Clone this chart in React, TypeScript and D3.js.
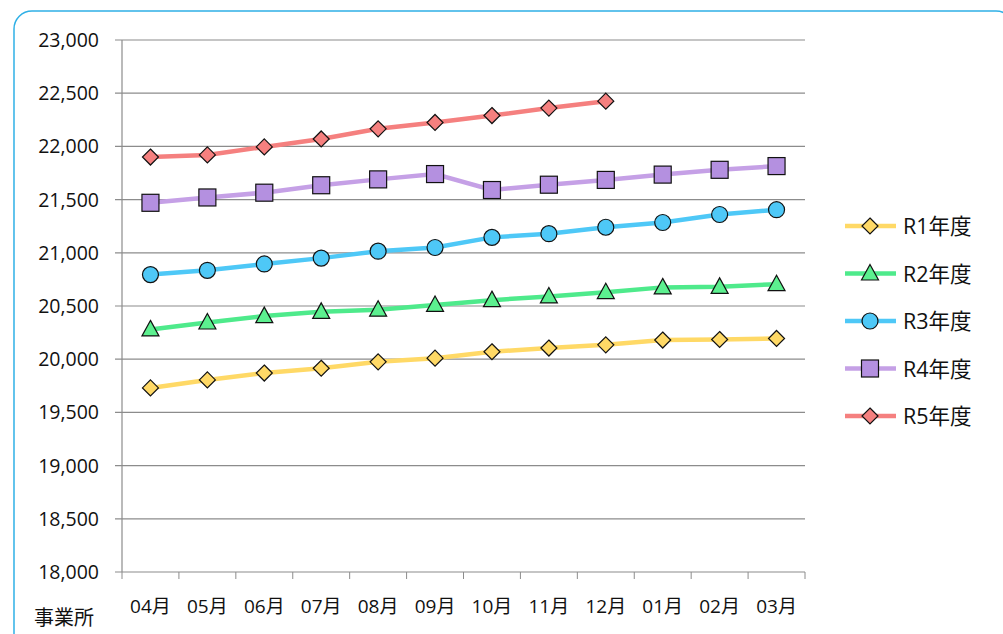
import React from "react";
import * as d3 from "d3";

const months = ["04月","05月","06月","07月","08月","09月","10月","11月","12月","01月","02月","03月"];
const yTicks = [18000,18500,19000,19500,20000,20500,21000,21500,22000,22500,23000];
const R1 = [19730,19805,19870,19915,19975,20010,20070,20105,20135,20180,20185,20195];
const R2 = [20280,20345,20405,20445,20465,20510,20555,20590,20630,20675,20680,20705];
const R3 = [20795,20835,20895,20950,21015,21050,21145,21180,21240,21285,21360,21405];
const R4 = [21470,21520,21565,21635,21690,21740,21590,21640,21685,21735,21780,21815];
const R5 = [21900,21920,21995,22070,22165,22225,22290,22360,22425];
const seriesNames = ["R1年度","R2年度","R3年度","R4年度","R5年度"];
const seriesColors = ["#ffd966","#4eea8b","#4ec8f7","#c5a0e6","#f5807f"];
const seriesFills = ["#ffd966","#5cf08f","#4ec8f7","#b490e0","#f5807f"];
const seriesShapes = ["diamond","triangle","circle","square","diamond"];
const seriesData = [R1,R2,R3,R4,R5];

const font = "'Open Sans','Noto Sans CJK JP',sans-serif";

function Marker({shape,x,y,fill}:{shape:string;x:number;y:number;fill:string}) {
  const p = {fill, stroke:"#111", strokeWidth:1.2};
  if (shape==="circle") return <circle cx={x} cy={y} r={8} {...p}/>;
  if (shape==="square") return <rect x={x-8.5} y={y-8.5} width={17} height={17} {...p}/>;
  if (shape==="triangle") return <path d={`M${x},${y-9}L${x+8.5},${y+6.5}L${x-8.5},${y+6.5}Z`} {...p}/>;
  return <path d={`M${x},${y-8}L${x+8},${y}L${x},${y+8}L${x-8},${y}Z`} {...p}/>;
}

export default function App() {
  const x = d3.scaleBand().domain(months).range([122,805]);
  const y = d3.scaleLinear().domain([18000,23000]).range([572,40]);
  const cx = (i:number)=> (x(months[i]) as number)+x.bandwidth()/2;
  const line = d3.line<number>().x((_,i)=>cx(i)).y(d=>y(d));
  return (
    <svg width={1003} height={634} style={{position:"fixed",left:0,top:0}} fontFamily={font}>
      <rect x={0} y={0} width={1003} height={634} fill="#fff"/>
      <rect x={14} y={11} width={1000} height={640} rx={18} fill="none" stroke="#2fb0e6" strokeWidth={1.5}/>
      {yTicks.map(t=>(
        <g key={t}>
          <line x1={115} x2={805} y1={y(t)} y2={y(t)} stroke="#8c8c8c" strokeWidth={1.2}/>
          <text x={99} y={y(t)+7} textAnchor="end" fontSize={19.5} fill="#111">{d3.format(",")(t)}</text>
        </g>
      ))}
      <line x1={122} x2={122} y1={40} y2={572} stroke="#8c8c8c" strokeWidth={1.2}/>
      {months.map((m,i)=>(
        <g key={m}>
          <line x1={(x(m) as number)} x2={(x(m) as number)} y1={572} y2={579} stroke="#8c8c8c"/>
          <text x={cx(i)} y={613} textAnchor="middle" fontSize={19} fill="#111">{m}</text>
        </g>
      ))}
      <line x1={805} x2={805} y1={572} y2={579} stroke="#8c8c8c"/>
      <text x={34} y={625} fontSize={20} fill="#111">事業所</text>
      {seriesData.map((s,k)=>(
        <g key={k}>
          <path d={line(s)!} fill="none" stroke={seriesColors[k]} strokeWidth={4.5}/>
          {s.map((v,i)=><Marker key={i} shape={seriesShapes[k]} x={cx(i)} y={y(v)} fill={seriesFills[k]}/>)}
        </g>
      ))}
      {seriesNames.map((n,k)=>{
        const ly = 226+k*47.5;
        return (
          <g key={n}>
            <line x1={845} x2={896} y1={ly} y2={ly} stroke={seriesColors[k]} strokeWidth={4.5}/>
            <Marker shape={seriesShapes[k]} x={870} y={ly} fill={seriesFills[k]}/>
            <text x={903} y={ly+8} fontSize={21.5} fill="#111">{n}</text>
          </g>
        );
      })}
    </svg>
  );
}
